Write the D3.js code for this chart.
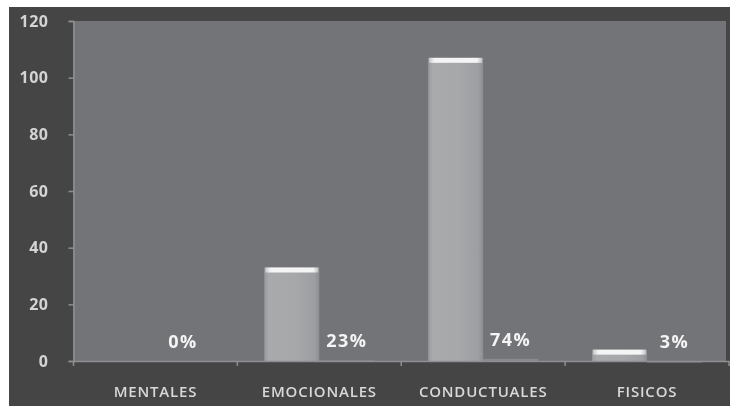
<!DOCTYPE html>
<html>
<head>
<meta charset="utf-8">
<script src="https://cdn.jsdelivr.net/npm/d3@7"></script>
<style>
  html, body { margin: 0; padding: 0; background: #ffffff; }
  svg { display: block; }
</style>
</head>
<body>
<svg id="chart" width="730" height="406"></svg>
<script>
// Categories and the two series: case counts and their share of the total
const categories = ["MENTALES", "EMOCIONALES", "CONDUCTUALES", "FISICOS"];
const counts = [0, 33, 107, 4];
const shares = [0, 0.23, 0.74, 0.03];
const shareLabels = ["0%", "23%", "74%", "3%"];
const yTicks = [0, 20, 40, 60, 80, 100, 120];

const svg = d3.select("#chart");
const W = 730, H = 406;
const plot = { left: 73.5, right: 729, top: 21, bottom: 361 };

// outer frame
svg.append("rect").attr("x", 9).attr("y", 7).attr("width", W - 9).attr("height", H - 7)
  .attr("fill", "#454546");

// plot area
svg.append("rect").attr("x", 73).attr("y", plot.top)
  .attr("width", 726 - 73).attr("height", plot.bottom - plot.top)
  .attr("fill", "#737478");

const x = d3.scaleBand().domain(categories).range([plot.left, plot.right]).paddingInner(0).paddingOuter(0);
const series = ["count", "share"];
const x1 = d3.scaleBand().domain(series).range([0, x.bandwidth()]).paddingInner(0).paddingOuter(0.49);
const y = d3.scaleLinear().domain([0, 120]).range([plot.bottom, plot.top]);

const defs = svg.append("defs");
const grad = defs.append("linearGradient").attr("id", "barFill").attr("x1", 0).attr("x2", 1).attr("y1", 0).attr("y2", 0);
grad.append("stop").attr("offset", "0%").attr("stop-color", "#98999c");
grad.append("stop").attr("offset", "8%").attr("stop-color", "#a9aaac");
grad.append("stop").attr("offset", "55%").attr("stop-color", "#a7a8aa");
grad.append("stop").attr("offset", "92%").attr("stop-color", "#9d9ea1");
grad.append("stop").attr("offset", "100%").attr("stop-color", "#8c8d90");

const hl = defs.append("linearGradient").attr("id", "topHl").attr("x1", 0).attr("x2", 1).attr("y1", 0).attr("y2", 0);
hl.append("stop").attr("offset", "0%").attr("stop-color", "#c8c9cb");
hl.append("stop").attr("offset", "10%").attr("stop-color", "#f4f4f4");
hl.append("stop").attr("offset", "90%").attr("stop-color", "#f4f4f4");
hl.append("stop").attr("offset", "100%").attr("stop-color", "#c0c1c3");

const blur = defs.append("filter").attr("id", "soft").attr("x", "-10%").attr("y", "-10%").attr("width", "120%").attr("height", "120%");
blur.append("feGaussianBlur").attr("stdDeviation", 0.6);

// y axis
const yAxis = svg.append("g").attr("transform", `translate(${plot.left},0)`)
  .call(d3.axisLeft(y).tickValues(yTicks).tickSize(5).tickPadding(20));
yAxis.select(".domain").attr("stroke", "#8e8f92").attr("stroke-width", 1.5);
yAxis.selectAll(".tick line").attr("stroke", "#8e8f92").attr("stroke-width", 1.5);
yAxis.selectAll(".tick text")
  .attr("fill", "#d4d4d4")
  .attr("font-family", "'Open Sans', sans-serif")
  .attr("font-weight", 700)
  .attr("font-size", 16)
  .attr("letter-spacing", 0.5)
  .attr("filter", "url(#soft)");

// bars for counts
const bars = svg.append("g").attr("filter", "url(#soft)");
categories.forEach((c, i) => {
  const v = counts[i];
  if (v <= 0) return;
  const bx = x(c) + x1("count");
  const bw = x1.bandwidth();
  const top = y(v);
  bars.append("rect").attr("x", bx).attr("y", top).attr("width", bw)
    .attr("height", plot.bottom - top).attr("fill", "url(#barFill)");
  bars.append("rect").attr("x", bx + 1).attr("y", top).attr("width", bw - 2)
    .attr("height", Math.min(5, plot.bottom - top)).attr("fill", "url(#topHl)");
});

// share series: thin bars on the same axis
categories.forEach((c, i) => {
  const v = shares[i];
  const bx = x(c) + x1("share");
  const bw = x1.bandwidth();
  const top = y(v);
  if (v > 0) {
    bars.append("rect").attr("x", bx).attr("y", top).attr("width", bw)
      .attr("height", Math.max(1.5, plot.bottom - top)).attr("fill", "#8a8b8e");
  }
  svg.append("text")
    .attr("x", bx + bw / 2)
    .attr("y", top - 13)
    .attr("text-anchor", "middle")
    .attr("fill", "#f4f4f4")
    .attr("font-family", "'Open Sans', sans-serif")
    .attr("font-weight", 700)
    .attr("font-size", 18)
    .attr("letter-spacing", 1.5)
    .attr("filter", "url(#soft)")
    .text(shareLabels[i]);
});

// x axis
const xAxis = svg.append("g").attr("transform", `translate(0,${plot.bottom})`)
  .call(d3.axisBottom(x).tickSize(0).tickPadding(25));
xAxis.select(".domain").attr("stroke", "#8e8f92").attr("stroke-width", 1.5);
xAxis.selectAll(".tick text")
  .attr("fill", "#d8d8d8")
  .attr("font-family", "'Open Sans', sans-serif")
  .attr("font-weight", 600)
  .attr("font-size", 15)
  .attr("letter-spacing", 0.8)
  .attr("filter", "url(#soft)");
// boundary ticks between categories
xAxis.selectAll(".bound").data(categories).enter().append("line")
  .attr("class", "bound")
  .attr("x1", d => x(d) + x.bandwidth()).attr("x2", d => x(d) + x.bandwidth())
  .attr("y1", 0).attr("y2", 5)
  .attr("stroke", "#8e8f92").attr("stroke-width", 1.5);
xAxis.append("line").attr("x1", plot.left).attr("x2", plot.left).attr("y1", 0).attr("y2", 5)
  .attr("stroke", "#8e8f92").attr("stroke-width", 1.5);
</script>
</body>
</html>
